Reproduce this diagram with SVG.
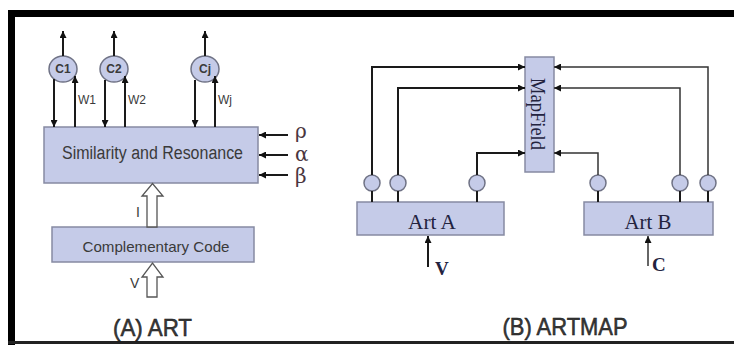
<svg xmlns="http://www.w3.org/2000/svg" width="734" height="345" viewBox="0 0 734 345">
<defs>
<marker id="ah" viewBox="0 0 10 10" refX="10" refY="5" markerWidth="7" markerHeight="7" markerUnits="userSpaceOnUse" orient="auto">
<path d="M0,0 L10,5 L0,10 z" fill="#111"/>
</marker>
</defs>
<style>
.box{fill:#c5cbe8;stroke:#868aa2;stroke-width:1.5}
.node{fill:#c5cbe8;stroke:#6f7285;stroke-width:1.5}
.ln{stroke:#1a1a1a;stroke-width:2;fill:none}
.lnt{stroke:#333;stroke-width:1.5;fill:none}
.hollow{fill:#fff;stroke:#555;stroke-width:1.3}
.sans{font-family:"Liberation Sans",Arial,sans-serif;fill:#3a3a3a}
.serif{font-family:"Liberation Serif","Times New Roman",serif;fill:#23233f}
.greek{font-family:"DejaVu Serif","Liberation Serif",serif;fill:#4a3640;font-size:20px}
.title{stroke:#111;stroke-width:0.5}
</style>
<rect width="734" height="345" fill="#fff"/>
<g id="frame">
<rect x="8" y="10" width="726" height="7" fill="#000"/>
<rect x="8" y="10" width="7" height="335" fill="#000"/>
<rect x="8" y="341" width="726" height="3" fill="#222"/>
</g>

<!-- Panel A -->
<g id="sim">
<rect class="box" x="44" y="127" width="214" height="56"/>
<text class="sans" x="152.5" y="159" font-size="18" text-anchor="middle" textLength="181" lengthAdjust="spacingAndGlyphs">Similarity and Resonance</text>
</g>
<g id="comp">
<rect class="box" x="52" y="227" width="202" height="35"/>
<text class="sans" x="156" y="252" font-size="15" text-anchor="middle" textLength="147" lengthAdjust="spacingAndGlyphs">Complementary Code</text>
</g>
<g id="c1">
<ellipse class="node" cx="63" cy="69" rx="14" ry="13"/>
<text class="sans" x="63" y="73" font-size="12" font-weight="bold" text-anchor="middle">C1</text>
</g>
<g id="c2">
<ellipse class="node" cx="114" cy="69" rx="14" ry="13"/>
<text class="sans" x="114" y="73" font-size="12" font-weight="bold" text-anchor="middle">C2</text>
</g>
<g id="cj">
<ellipse class="node" cx="205" cy="69" rx="14" ry="13"/>
<text class="sans" x="205" y="73" font-size="12" font-weight="bold" text-anchor="middle">Cj</text>
</g>

<g id="connectors-a">
<line class="ln" x1="63" y1="56" x2="63" y2="31" marker-end="url(#ah)"/>
<line class="ln" x1="114" y1="56" x2="114" y2="31" marker-end="url(#ah)"/>
<line class="ln" x1="205" y1="56" x2="205" y2="31" marker-end="url(#ah)"/>
<line class="ln" x1="54" y1="79" x2="54" y2="127" marker-end="url(#ah)"/>
<line class="ln" x1="75" y1="127" x2="75" y2="76" marker-end="url(#ah)"/>
<line class="ln" x1="105" y1="80" x2="105" y2="127" marker-end="url(#ah)"/>
<line class="ln" x1="125" y1="127" x2="125" y2="76" marker-end="url(#ah)"/>
<line class="ln" x1="195" y1="80" x2="195" y2="127" marker-end="url(#ah)"/>
<line class="ln" x1="215" y1="127" x2="215" y2="76" marker-end="url(#ah)"/>
<line class="ln" x1="288" y1="135" x2="259" y2="135" marker-end="url(#ah)"/>
<line class="ln" x1="288" y1="155" x2="259" y2="155" marker-end="url(#ah)"/>
<line class="ln" x1="288" y1="175" x2="259" y2="175" marker-end="url(#ah)"/>
<polygon class="hollow" points="147,227 147,196 142,196 152.5,183.5 163,196 157,196 157,227"/>
<polygon class="hollow" points="147,297 147,277 142,277 152.5,263 163,277 157,277 157,297"/>
</g>
<g id="labels-a">
<text class="sans" x="78" y="104" font-size="12">W1</text>
<text class="sans" x="128" y="104" font-size="12">W2</text>
<text class="sans" x="218" y="104" font-size="12">Wj</text>
<text class="greek" x="295" y="138">ρ</text>
<text class="greek" x="295" y="161">α</text>
<text class="greek" x="295" y="183">β</text>
<text class="sans" x="136" y="217" font-size="14">I</text>
<text class="sans" x="130" y="288" font-size="14">V</text>
<text class="sans title" x="152.5" y="336" font-size="24" text-anchor="middle" textLength="79" lengthAdjust="spacingAndGlyphs" fill="#111">(A) ART</text>
</g>

<!-- Panel B -->
<g id="mapfield">
<rect class="box" x="525" y="57" width="29" height="115"/>
<text class="serif" transform="translate(531,114) rotate(90)" x="0" y="0" font-size="20" text-anchor="middle" textLength="72" lengthAdjust="spacingAndGlyphs">MapField</text>
</g>
<g id="artA">
<rect class="box" x="357" y="202" width="147" height="33"/>
<text class="serif" x="432" y="229" font-size="20" text-anchor="middle" textLength="48" lengthAdjust="spacingAndGlyphs">Art A</text>
<circle class="node" cx="372" cy="183" r="8"/>
<circle class="node" cx="398" cy="183" r="8"/>
<circle class="node" cx="477" cy="183" r="8"/>
<line class="ln" x1="372" y1="191" x2="372" y2="202"/>
<line class="ln" x1="398" y1="191" x2="398" y2="202"/>
<line class="ln" x1="477" y1="191" x2="477" y2="202"/>
</g>
<g id="artB">
<rect class="box" x="584" y="202" width="129" height="33"/>
<text class="serif" x="648" y="229" font-size="20" text-anchor="middle" textLength="47" lengthAdjust="spacingAndGlyphs">Art B</text>
<circle class="node" cx="598" cy="183" r="8"/>
<circle class="node" cx="680" cy="183" r="8"/>
<circle class="node" cx="708" cy="183" r="8"/>
<line class="ln" x1="598" y1="191" x2="598" y2="202"/>
<line class="ln" x1="680" y1="191" x2="680" y2="202"/>
<line class="ln" x1="708" y1="191" x2="708" y2="202"/>
</g>
<g id="connectors-b">
<polyline class="ln" points="372,175 372,67 525,67" marker-end="url(#ah)"/>
<polyline class="ln" points="398,175 398,88 525,88" marker-end="url(#ah)"/>
<polyline class="ln" points="477,175 477,153 525,153" marker-end="url(#ah)"/>
<polyline class="lnt" points="708,175 708,67 554,67" marker-end="url(#ah)"/>
<polyline class="lnt" points="680,175 680,88 554,88" marker-end="url(#ah)"/>
<polyline class="lnt" points="598,175 598,153 554,153" marker-end="url(#ah)"/>
<line class="ln" x1="428" y1="267" x2="428" y2="236" marker-end="url(#ah)"/>
<line class="lnt" x1="648" y1="266" x2="648" y2="236" marker-end="url(#ah)"/>
</g>
<g id="labels-b">
<text class="serif" x="435" y="275" font-size="19" font-weight="bold">V</text>
<text class="serif" x="652" y="271" font-size="19" font-weight="bold">C</text>
<text class="sans title" x="565" y="335" font-size="24" text-anchor="middle" textLength="125" lengthAdjust="spacingAndGlyphs" fill="#111">(B) ARTMAP</text>
</g>
</svg>
